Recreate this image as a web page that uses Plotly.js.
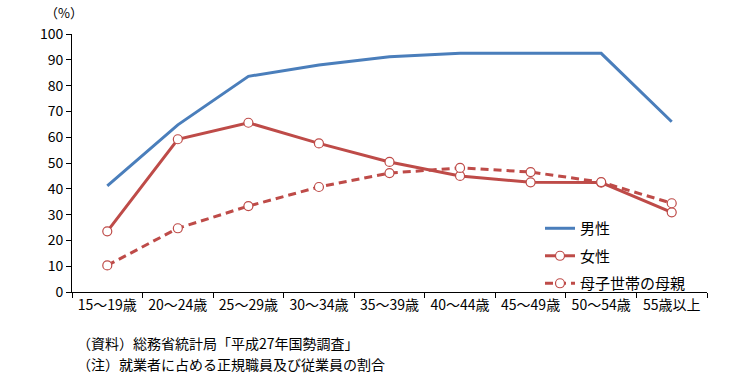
<!DOCTYPE html>
<html>
<head>
<meta charset="utf-8">
<script src="https://cdn.plot.ly/plotly-3.0.1.min.js"></script>
<style>html,body{margin:0;padding:0;background:#fff;}#chart{width:756px;height:379px;}</style>
</head>
<body>
<div id="chart"></div>
<script>
const categories = ["15～19歳","20～24歳","25～29歳","30～34歳","35～39歳","40～44歳","45～49歳","50～54歳","55歳以上"];
const male = [41.1, 64.8, 83.6, 88.0, 91.2, 92.5, 92.5, 92.5, 66.0];
const female = [23.5, 59.2, 65.6, 57.6, 50.4, 45.0, 42.5, 42.4, 30.9];
const mother = [10.3, 24.7, 33.3, 40.7, 46.1, 48.1, 46.5, 42.6, 34.4];
const seriesNames = ["男性", "女性", "母子世帯の母親"];
const yTicks = [0,10,20,30,40,50,60,70,80,90,100];
const notes = ["（資料）総務省統計局「平成27年国勢調査」", "（注）就業者に占める正規職員及び従業員の割合"];

const FONT = "Noto Sans CJK JP, sans-serif";
const blue = "#4a7ebb", red = "#be4b48";

const traces = [
  {x: categories, y: male, name: seriesNames[0], type: "scatter", mode: "lines",
   line: {color: blue, width: 3}, legendgroup: "a"},
  {x: categories, y: female, name: seriesNames[1], type: "scatter", mode: "lines+markers",
   line: {color: red, width: 3},
   marker: {symbol: "circle", size: 9, color: "#ffffff", line: {color: red, width: 1.2}}, legendgroup: "b"},
  {x: categories, y: mother, name: seriesNames[2], type: "scatter", mode: "lines+markers",
   line: {color: red, width: 3, dash: "8px,5px"},
   marker: {symbol: "circle", size: 9, color: "#ffffff", line: {color: red, width: 1.2}}, legendgroup: "c"}
];

const layout = {
  width: 756, height: 379,
  margin: {l: 72, r: 49, t: 34, b: 87, pad: 0},
  paper_bgcolor: "#fff", plot_bgcolor: "#fff",
  font: {family: FONT, size: 14, color: "#000"},
  showlegend: true,
  legend: {x: 0.737, y: 0.31, xanchor: "left", yanchor: "top", bgcolor: "rgba(0,0,0,0)",
           font: {family: FONT, size: 15, color: "#000"}, traceorder: "grouped", tracegroupgap: 5},
  xaxis: {type: "category", range: [-0.5, 8.5], showline: true, linecolor: "#000", linewidth: 1,
          ticks: "outside", ticklen: 5, tickcolor: "#000", tickson: "boundaries",
          showgrid: false, zeroline: false, tickfont: {family: FONT, size: 14, color: "#000"}},
  yaxis: {range: [0, 100], tickvals: yTicks, showline: true, linecolor: "#000", linewidth: 1,
          ticks: "outside", ticklen: 5, tickcolor: "#000", showgrid: false, zeroline: false,
          tickfont: {family: FONT, size: 14, color: "#000"}, fixedrange: true},
  annotations: [
    {text: "（%）", xref: "paper", yref: "paper", x: -0.013, y: 1.082, xanchor: "center", yanchor: "middle",
     showarrow: false, font: {family: FONT, size: 13, color: "#000"}},
    {text: notes[0], xref: "paper", yref: "paper", x: 0.005, y: -0.198, xanchor: "left", yanchor: "middle",
     showarrow: false, font: {family: FONT, size: 14, color: "#000"}},
    {text: notes[1], xref: "paper", yref: "paper", x: 0.005, y: -0.279, xanchor: "left", yanchor: "middle",
     showarrow: false, font: {family: FONT, size: 14, color: "#000"}}
  ]
};

Plotly.newPlot("chart", traces, layout, {staticPlot: true, displayModeBar: false});
</script>
</body>
</html>
